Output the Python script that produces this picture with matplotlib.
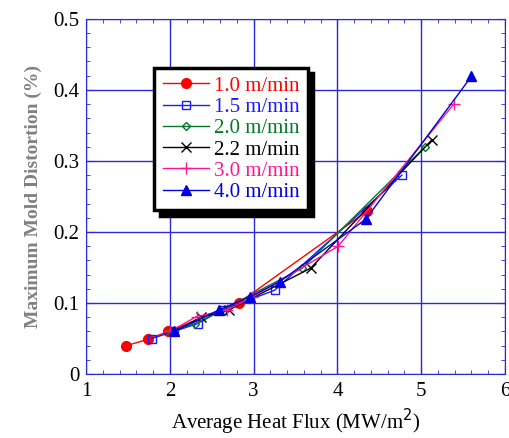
import numpy as np
import matplotlib.pyplot as plt
from matplotlib.ticker import MultipleLocator

plt.rcParams['font.family'] = ['Liberation Serif', 'DejaVu Serif']

# data
labels = ['1.0 m/min', '1.5 m/min', '2.0 m/min', '2.2 m/min', '3.0 m/min', '4.0 m/min']

x_10 = [1.48, 1.74, 1.98, 2.82, 4.35]
y_10 = [0.040, 0.049, 0.060, 0.100, 0.229]

x_15 = [1.78, 2.05, 2.33, 2.62, 3.25, 4.77]
y_15 = [0.050, 0.060, 0.071, 0.090, 0.118, 0.280]

x_20 = [2.00, 2.30, 2.60, 3.58, 5.04]
y_20 = [0.060, 0.071, 0.089, 0.149, 0.319]

x_22 = [2.05, 2.37, 2.70, 3.68, 5.13]
y_22 = [0.060, 0.080, 0.090, 0.149, 0.330]

x_30 = [2.00, 2.32, 2.68, 2.98, 4.01, 5.39]
y_30 = [0.060, 0.081, 0.090, 0.108, 0.180, 0.380]

x_40 = [2.05, 2.58, 2.96, 3.31, 4.34, 5.60]
y_40 = [0.060, 0.090, 0.109, 0.130, 0.218, 0.419]

xs = [x_10, x_15, x_20, x_22, x_30, x_40]
ys = [y_10, y_15, y_20, y_22, y_30, y_40]
colors = ['#ff0000', '#1a1aff', '#007a28', '#000000', '#ff1493', '#0000e0']
markers = ['o', 's', 'D', 'x', '+', '^']
msizes = [7, 6, 4, 7, 8, 7]
filled = [True, False, False, True, True, True]

fig = plt.figure(figsize=(5.1, 4.38), dpi=100)
ax = fig.add_axes([0.169, 0.146, 0.821, 0.811])

grid_col = '#2a2ad8'
for xv, yv, c, m, ms, f, lab in zip(xs, ys, colors, markers, msizes, filled, labels):
    ax.plot(xv, yv, color=c, marker=m, markersize=ms, lw=1.0,
            markerfacecolor=c if f else 'none', markeredgecolor=c,
            markeredgewidth=1.0, label=lab, zorder=3)

ax.set_xlim(1, 6)
ax.set_ylim(0, 0.5)
ax.xaxis.set_major_locator(MultipleLocator(1))
ax.xaxis.set_minor_locator(MultipleLocator(0.2))
ax.yaxis.set_major_locator(MultipleLocator(0.1))
ax.yaxis.set_minor_locator(MultipleLocator(0.02))
ax.set_yticks([0, 0.1, 0.2, 0.3, 0.4, 0.5])
ax.set_yticklabels(['0', '0.1', '0.2', '0.3', '0.4', '0.5'])
ax.grid(True, which='major', color=grid_col, lw=1.0, zorder=0)
ax.tick_params(which='both', direction='in', top=True, right=True,
               color=grid_col, labelsize=15, labelcolor='black')
ax.tick_params(which='major', length=6)
ax.tick_params(which='minor', length=3)
ax.tick_params(axis='x', pad=6)
ax.tick_params(axis='y', pad=5)
for s in ax.spines.values():
    s.set_color(grid_col)

ax.set_xlabel('Average Heat Flux (MW/m$^2$)', fontsize=15, labelpad=4)
ax.set_ylabel('Maximum Mold Distortion (%)', fontsize=14, fontweight='bold',
              color='#808080', labelpad=8)

leg = ax.legend(loc='upper left', bbox_to_anchor=(0.163, 0.862), fontsize=15,
                handlelength=2.2, handletextpad=0.25, labelspacing=0.08,
                borderpad=0.4, borderaxespad=0, fancybox=False, framealpha=1,
                shadow={'color': 'black', 'alpha': 1, 'ox': 4, 'oy': -4})
leg.get_frame().set_edgecolor('black')
leg.get_frame().set_linewidth(2.5)
for t, c in zip(leg.get_texts(), colors):
    t.set_color(c)
leg.set_zorder(5)

fig.savefig('out.png', dpi=100)
